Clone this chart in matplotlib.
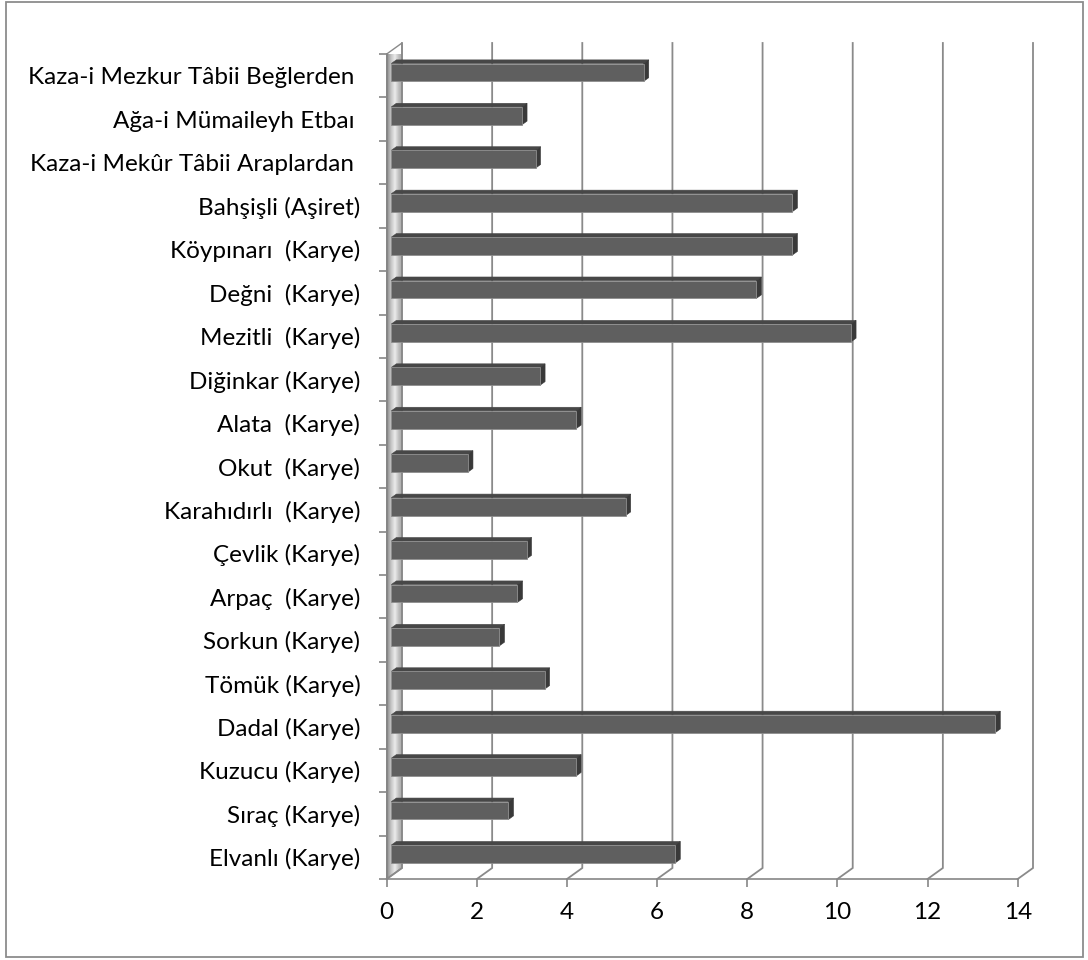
import numpy as np
import matplotlib
matplotlib.use("Agg")
import matplotlib.pyplot as plt
from matplotlib.patches import Polygon, Rectangle
from matplotlib.colors import LinearSegmentedColormap

# ---------------- data (top to bottom as shown) ----------------
categories = [
    "Kaza-i Mezkur Tâbii Beğlerden ",
    "Ağa-i Mümaileyh Etbaı ",
    "Kaza-i Mekûr Tâbii Araplardan ",
    "Bahşişli (Aşiret)",
    "Köypınarı  (Karye)",
    "Değni  (Karye)",
    "Mezitli  (Karye)",
    "Diğinkar (Karye)",
    "Alata  (Karye)",
    "Okut  (Karye)",
    "Karahıdırlı  (Karye)",
    "Çevlik (Karye)",
    "Arpaç  (Karye)",
    "Sorkun (Karye)",
    "Tömük (Karye)",
    "Dadal (Karye)",
    "Kuzucu (Karye)",
    "Sıraç (Karye)",
    "Elvanlı (Karye)",
]
values = [5.6, 2.9, 3.2, 8.9, 8.9, 8.1, 10.2, 3.3, 4.1, 1.7,
          5.2, 3.0, 2.8, 2.4, 3.4, 13.4, 4.1, 2.6, 6.3]
x_ticks = [0, 2, 4, 6, 8, 10, 12, 14]

# bottom-to-top order for plotting
cats_b = categories[::-1]
vals_b = values[::-1]
n = len(cats_b)

plt.rcParams["font.family"] = ["Lato", "DejaVu Sans"]
FS = 17.5

W, H = 1088, 960
fig = plt.figure(figsize=(W / 100, H / 100), dpi=100)
fig.patch.set_facecolor("white")

# front plane of the 3D box (pixels, top-origin)
x0p, x1p = 386.7, 1017.7
ytop, ybot = 54.0, 879.0
ax = fig.add_axes([x0p / W, 1 - ybot / H, (x1p - x0p) / W, (ybot - ytop) / H])
ax.set_facecolor("none")
xmin, xmax = 0, 14
ax.set_xlim(xmin, xmax)
ax.set_ylim(-0.5, n - 0.5)

pxx = (x1p - x0p) / (xmax - xmin)
pxy = (ybot - ytop) / n
DX = 15.3 / pxx      # depth offset in data units
DY = 11.0 / pxy

grid_c = "#8a8a8a"
# ---- left wall with gradient ----
wall = Polygon([(0, -0.5), (0, n - 0.5), (DX, n - 0.5 + DY), (DX, -0.5 + DY)],
               closed=True, facecolor="none", edgecolor=grid_c, lw=1.0,
               clip_on=False, zorder=2)
ax.add_patch(wall)
cmap = LinearSegmentedColormap.from_list(
    "wall", ["#8c8c8c", "#c4c4c4", "#ececec", "#bdbdbd", "#a4a4a4"])
grad = np.linspace(0, 1, 64).reshape(1, -1)
im = ax.imshow(grad, cmap=cmap, aspect="auto",
               extent=[0, DX, -0.5, n - 0.5 + DY], zorder=1.5,
               interpolation="bilinear")
im.set_clip_path(wall)
im.set_clip_on(True)
ax.set_xlim(xmin, xmax)
ax.set_ylim(-0.5, n - 0.5)

# ---- back gridlines + floor diagonals ----
for t in x_ticks:
    xs = [t + DX, t + DX, t]
    ys = [n - 0.5 + DY, -0.5 + DY, -0.5]
    ax.plot(xs, ys, color=grid_c, lw=1.3, clip_on=False, zorder=1.8,
            solid_joinstyle="miter")

# ---- bars ----
f0, f1 = 0.30, 0.63
bx, by = f0 * DX, f0 * DY
ddx, ddy = (f1 - f0) * DX, (f1 - f0) * DY
bh = 0.41
ypos = np.arange(n)
ax.barh(ypos + by, vals_b, height=bh, left=bx, color="#5f5f5f",
        edgecolor="#8e8e8e", linewidth=0.6, zorder=5)
for i, v in enumerate(vals_b):
    yt = i + by + bh / 2
    yb = i + by - bh / 2
    top = Polygon([(bx, yt), (bx + v, yt), (bx + v + ddx, yt + ddy),
                   (bx + ddx, yt + ddy)], closed=True,
                  facecolor="#474747", edgecolor="#474747", lw=0.4,
                  zorder=4, clip_on=False)
    side = Polygon([(bx + v, yb), (bx + v, yt), (bx + v + ddx, yt + ddy),
                    (bx + v + ddx, yb + ddy)], closed=True,
                   facecolor="#393939", edgecolor="#393939", lw=0.4,
                   zorder=4, clip_on=False)
    ax.add_patch(top)
    ax.add_patch(side)

# ---- axes styling ----
axis_c = "#868686"
for s in ["top", "right"]:
    ax.spines[s].set_visible(False)
for s in ["left", "bottom"]:
    ax.spines[s].set_color(axis_c)
    ax.spines[s].set_linewidth(1.2)
    ax.spines[s].set_zorder(3)

ax.set_xticks(x_ticks)
ax.set_xticklabels([str(t) for t in x_ticks])
ax.tick_params(axis="x", which="major", direction="out", length=5.5,
               width=1.2, color=axis_c, labelsize=FS, pad=11,
               labelcolor="black")

ax.set_yticks(ypos)
ax.set_yticklabels(cats_b)
ax.set_yticks(np.arange(-0.5, n, 1.0), minor=True)
ax.tick_params(axis="y", which="major", length=0, labelsize=FS, pad=19,
               labelcolor="black")
ax.tick_params(axis="y", which="minor", direction="out", length=5.5,
               width=1.2, color=axis_c)

# ---- outer chart border ----
border = Rectangle((6 / W, 1 - 956.7 / H), (1082.7 - 6) / W, (956.7 - 1.5) / H,
                   transform=fig.transFigure, facecolor="none",
                   edgecolor="#8c8c8c", lw=1.3, zorder=10)
fig.patches.append(border)

fig.savefig("out.png", dpi=100, facecolor="white")
